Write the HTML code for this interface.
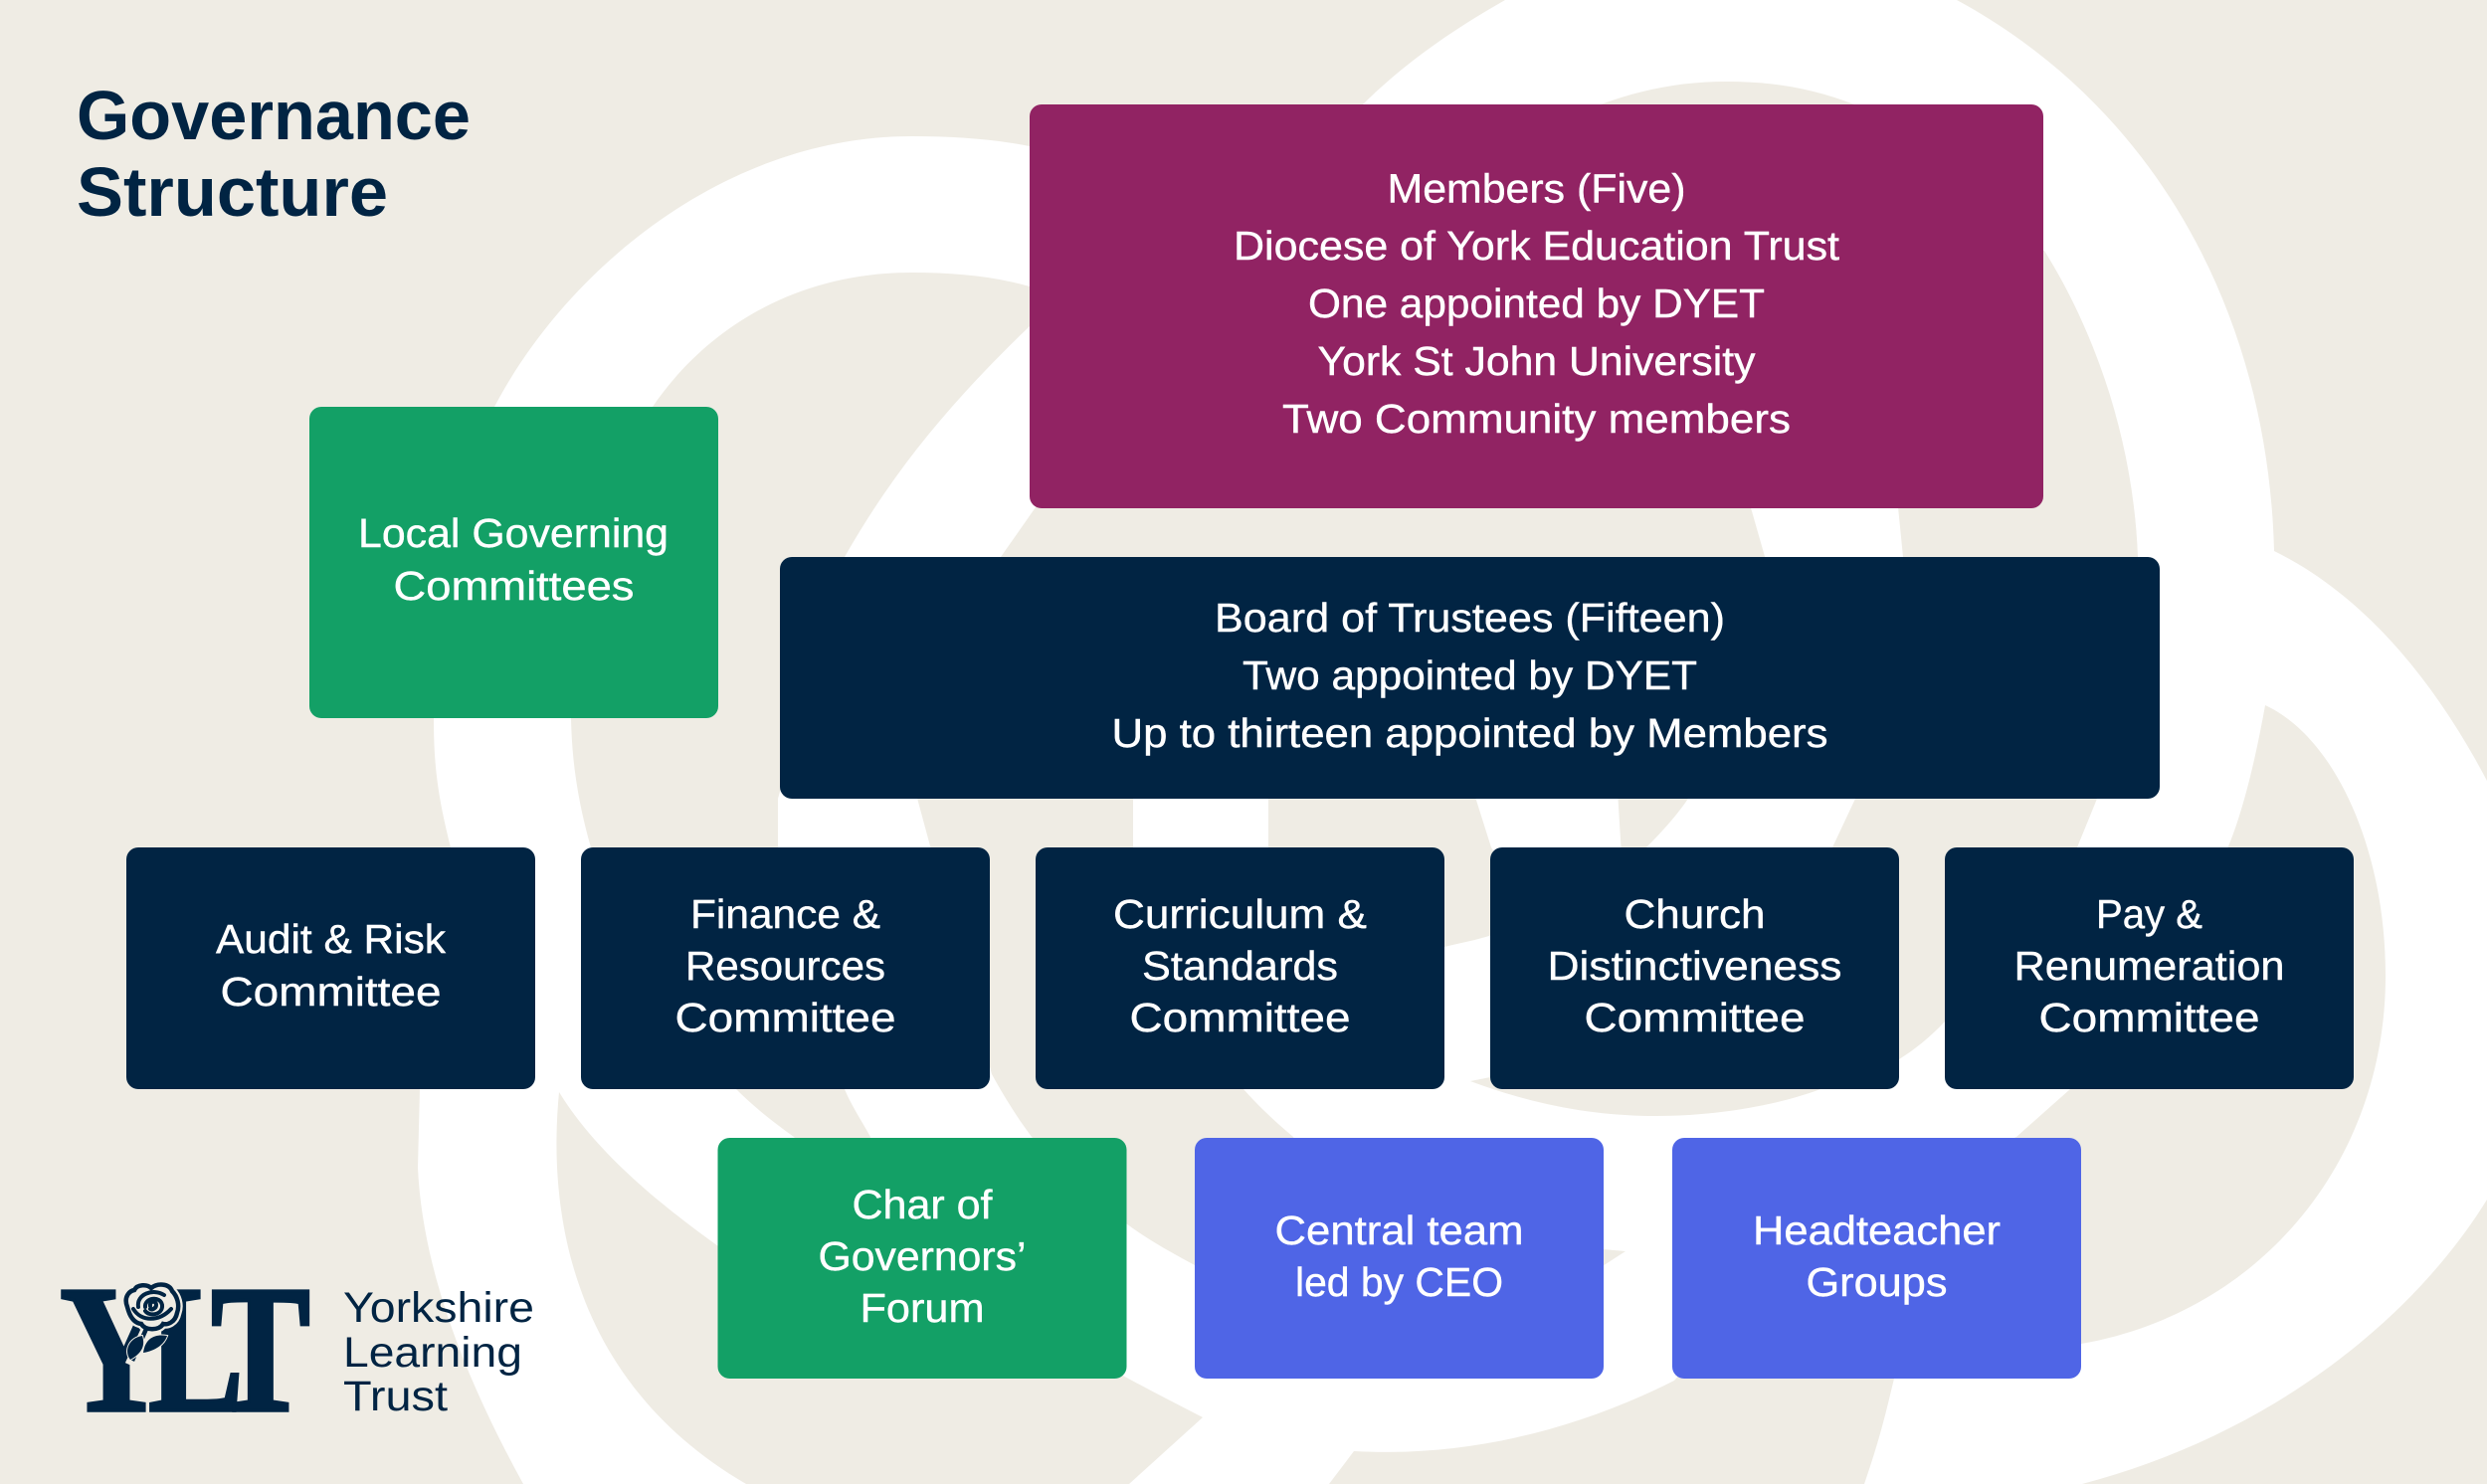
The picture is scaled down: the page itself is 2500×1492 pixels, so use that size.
<!DOCTYPE html>
<html lang="en">
<head>
<meta charset="utf-8">
<title>Governance Structure</title>
<style>
html,body{margin:0;padding:0;width:2500px;height:1492px;overflow:hidden;background:#efece4}
svg{display:block}
.t{font-family:"Liberation Sans",sans-serif;font-size:41px;fill:#fff;stroke:#fff;stroke-width:.4px;text-anchor:middle}
.h{font-family:"Liberation Sans",sans-serif;font-size:70px;font-weight:bold;fill:#012443}
.l{font-family:"Liberation Sans",sans-serif;font-size:43px;fill:#012443}
.s{font-family:"Liberation Serif",serif;font-size:183px;font-weight:bold;fill:#012443;stroke:#012443;stroke-width:3.5px}
</style>
</head>
<body>
<svg xmlns="http://www.w3.org/2000/svg" width="2500" height="1492" viewBox="0 0 2500 1492">
<rect width="2500" height="1492" fill="#efece4"/>
<!-- white knot -->
<path fill="#fff" d="M526,1492 C470,1390 425,1280 420,1174 L422,1095 L453,852 C440,800 436,770 436,722 L497,409 C570,270 730,137 917,137 C960,137 1000,140 1035,147 L1370,105 C1410,65 1460,30 1513,0 L1967,0 C2170,110 2280,320 2286,554 C2380,600 2450,690 2500,785 L2500,1206 C2430,1320 2290,1440 2093,1492 Z"/>
<!-- beige patches -->
<g fill="#efece4">
<path d="M1035,288 C1000,278 960,274 917,274 C800,274 710,330 656,409 L574,722 C575,770 582,810 594,852 L740,1095 C760,1115 780,1130 798,1143 L850,1200 L875,1143 C865,1125 855,1110 849,1095 L782,852 L782,803 L849,560 C900,470 960,400 1035,328 Z"/>
<path d="M1048,500 L1757,500 L1777,570 L999,570 Z"/>
<path d="M1907,500 L1913,560 L1865,803 L1842,852 L1880,950 L1909,1065 C1925,1055 1940,1043 1955,1027 L2000,980 L2088,852 L2108,803 L2149,560 C2145,450 2110,340 2055,252 L1950,252 Z"/>
<path d="M920,795 L1139,795 L1139,852 L1250,1095 C1265,1112 1282,1128 1300,1143 L1330,1200 L1225,1285 L1201,1272 C1175,1258 1152,1245 1132,1230 L1037,1143 C1020,1120 1008,1100 997,1080 Z"/>
<path d="M1275,795 L1481,795 L1499,852 L1530,900 L1500,940 C1485,945 1468,948 1452,952 L1300,950 L1275,852 Z"/>
<path d="M1626,795 L1702,795 C1690,815 1672,835 1655,852 L1641,852 L1645,880 L1630,860 Z"/>
<path d="M1609,105 C1650,90 1690,82 1736,82 C1785,82 1825,90 1864,105 L1864,120 L1609,120 Z"/>
<path d="M1478,1087 C1540,1110 1600,1122 1665,1122 C1730,1122 1790,1110 1830,1095 L1830,1080 L1498,1083 Z"/>
<path d="M1634,1258 L1600,1255 L1600,1280 Z"/>
<path d="M562,1098 C550,1220 575,1390 750,1492 L1135,1492 L1209,1425 C1180,1410 1150,1395 1120,1378 L1000,1300 L722,1253 C680,1222 605,1168 562,1098 Z"/>
<path d="M2277,709 C2345,740 2398,850 2398,981 C2398,1170 2270,1320 2092,1351 L1960,1380 L1904,1386 C1898,1410 1892,1440 1874,1492 L1336,1492 L1361,1459 C1470,1465 1580,1440 1683,1388 L1800,1250 L2027,1143 L2081,1095 L2240,851 C2255,815 2268,760 2277,709 Z"/>
</g>

<!-- boxes -->
<rect x="1035" y="105" width="1019" height="406" rx="12" fill="#912363"/>
<rect x="311" y="409" width="411" height="313" rx="12" fill="#13a066"/>
<rect x="784" y="560" width="1387" height="243" rx="12" fill="#012443"/>
<rect x="127" y="852" width="411" height="243" rx="12" fill="#012443"/>
<rect x="584" y="852" width="411" height="243" rx="12" fill="#012443"/>
<rect x="1041" y="852" width="411" height="243" rx="12" fill="#012443"/>
<rect x="1498" y="852" width="411" height="243" rx="12" fill="#012443"/>
<rect x="1955" y="852" width="411" height="243" rx="12" fill="#012443"/>
<rect x="721.5" y="1144" width="411" height="242" rx="12" fill="#13a066"/>
<rect x="1201" y="1144" width="411" height="242" rx="12" fill="#4f65e6"/>
<rect x="1681" y="1144" width="411" height="242" rx="12" fill="#4f65e6"/>

<!-- title -->
<text class="h" x="77" y="140" textLength="396" lengthAdjust="spacingAndGlyphs">Governance</text>
<text class="h" x="77" y="217" textLength="313" lengthAdjust="spacingAndGlyphs">Structure</text>

<!-- box text -->
<text class="t" x="1544.5" y="203.5" textLength="300" lengthAdjust="spacingAndGlyphs">Members (Five)</text>
<text class="t" x="1544.5" y="261" textLength="609" lengthAdjust="spacingAndGlyphs">Diocese of York Education Trust</text>
<text class="t" x="1544.5" y="319" textLength="459" lengthAdjust="spacingAndGlyphs">One appointed by DYET</text>
<text class="t" x="1544.5" y="377" textLength="440" lengthAdjust="spacingAndGlyphs">York St John University</text>
<text class="t" x="1544.5" y="435" textLength="511" lengthAdjust="spacingAndGlyphs">Two Community members</text>

<text class="t" x="516" y="550" textLength="312" lengthAdjust="spacingAndGlyphs">Local Governing</text>
<text class="t" x="516.5" y="603" textLength="242" lengthAdjust="spacingAndGlyphs">Committees</text>

<text class="t" x="1477.5" y="635" textLength="513" lengthAdjust="spacingAndGlyphs">Board of Trustees (Fifteen)</text>
<text class="t" x="1477.5" y="693" textLength="457" lengthAdjust="spacingAndGlyphs">Two appointed by DYET</text>
<text class="t" x="1477.5" y="751" textLength="720" lengthAdjust="spacingAndGlyphs">Up to thirteen appointed by Members</text>

<text class="t" x="332.5" y="958" textLength="231" lengthAdjust="spacingAndGlyphs">Audit &amp; Risk</text>
<text class="t" x="332.5" y="1011" textLength="222" lengthAdjust="spacingAndGlyphs">Committee</text>

<text class="t" x="789.5" y="933" textLength="191" lengthAdjust="spacingAndGlyphs">Finance &amp;</text>
<text class="t" x="789.5" y="985" textLength="201" lengthAdjust="spacingAndGlyphs">Resources</text>
<text class="t" x="789.5" y="1037" textLength="222" lengthAdjust="spacingAndGlyphs">Committee</text>

<text class="t" x="1246.5" y="933" textLength="255" lengthAdjust="spacingAndGlyphs">Curriculum &amp;</text>
<text class="t" x="1246.5" y="985" textLength="197" lengthAdjust="spacingAndGlyphs">Standards</text>
<text class="t" x="1246.5" y="1037" textLength="222" lengthAdjust="spacingAndGlyphs">Committee</text>

<text class="t" x="1703.5" y="933" textLength="142" lengthAdjust="spacingAndGlyphs">Church</text>
<text class="t" x="1703.5" y="985" textLength="296" lengthAdjust="spacingAndGlyphs">Distinctiveness</text>
<text class="t" x="1703.5" y="1037" textLength="222" lengthAdjust="spacingAndGlyphs">Committee</text>

<text class="t" x="2160.5" y="933" textLength="107" lengthAdjust="spacingAndGlyphs">Pay &amp;</text>
<text class="t" x="2160.5" y="985" textLength="272" lengthAdjust="spacingAndGlyphs">Renumeration</text>
<text class="t" x="2160.5" y="1037" textLength="222" lengthAdjust="spacingAndGlyphs">Committee</text>

<text class="t" x="927" y="1225" textLength="141" lengthAdjust="spacingAndGlyphs">Char of</text>
<text class="t" x="927" y="1277" textLength="209" lengthAdjust="spacingAndGlyphs">Governors’</text>
<text class="t" x="927" y="1329" textLength="125" lengthAdjust="spacingAndGlyphs">Forum</text>

<text class="t" x="1406.5" y="1251" textLength="250" lengthAdjust="spacingAndGlyphs">Central team</text>
<text class="t" x="1406.5" y="1303" textLength="209" lengthAdjust="spacingAndGlyphs">led by CEO</text>

<text class="t" x="1886.5" y="1251" textLength="249" lengthAdjust="spacingAndGlyphs">Headteacher</text>
<text class="t" x="1886.5" y="1303" textLength="142" lengthAdjust="spacingAndGlyphs">Groups</text>

<!-- logo -->
<text class="s" x="60" y="1418" textLength="112" lengthAdjust="spacingAndGlyphs">Y</text>
<text class="s" x="149" y="1418" textLength="96" lengthAdjust="spacingAndGlyphs">L</text>
<text class="s" x="212" y="1418" textLength="100" lengthAdjust="spacingAndGlyphs">T</text>
<!-- rose -->
<path d="M128,1314 C124,1304 130,1298 135,1297 C138,1291 148,1291 152,1295 C158,1290 170,1290 173,1298 C178,1303 181,1312 178,1320 C176,1330 168,1332 164,1331 C160,1338 146,1338 142,1331 C134,1330 130,1322 128,1314Z" fill="#efece4" stroke="#efece4" stroke-width="9"/>
<path d="M146,1337 L130,1372" stroke="#efece4" stroke-width="9" fill="none"/>
<path d="M147,1336 L133,1368" stroke="#012443" stroke-width="4.5" fill="none"/>
<path d="M143,1343 C130,1345 124,1358 131,1367 C140,1362 147,1355 143,1343Z" fill="#012443" stroke="#efece4" stroke-width="2" paint-order="stroke"/>
<path d="M144,1360 C146,1345 156,1341 168,1343 C165,1352 156,1358 144,1360 Z" fill="#012443" stroke="#efece4" stroke-width="2" paint-order="stroke"/>
<path d="M128,1314 C124,1304 130,1298 135,1297 C138,1291 148,1291 152,1295 C158,1290 170,1290 173,1298 C178,1303 181,1312 178,1320 C176,1330 168,1332 164,1331 C160,1338 146,1338 142,1331 C134,1330 130,1322 128,1314Z" fill="#efece4" stroke="#012443" stroke-width="4.5"/>
<g fill="none" stroke="#012443" stroke-width="4" stroke-linecap="round">
<path d="M151,1313 C150,1308 157,1307 157,1312 C157,1316 152,1317 151,1316"/>
<path d="M146,1314 C145,1305 161,1302 163,1312 C164,1322 150,1324 146,1318"/>
<path d="M139,1314 C137,1301 154,1295 165,1302"/>
<path d="M134,1316 C142,1329 160,1329 172,1316"/>
</g>
<text class="l" x="345" y="1329" textLength="192" lengthAdjust="spacingAndGlyphs">Yorkshire</text>
<text class="l" x="345" y="1374" textLength="180" lengthAdjust="spacingAndGlyphs">Learning</text>
<text class="l" x="345" y="1418" textLength="105" lengthAdjust="spacingAndGlyphs">Trust</text>
</svg>
</body>
</html>
